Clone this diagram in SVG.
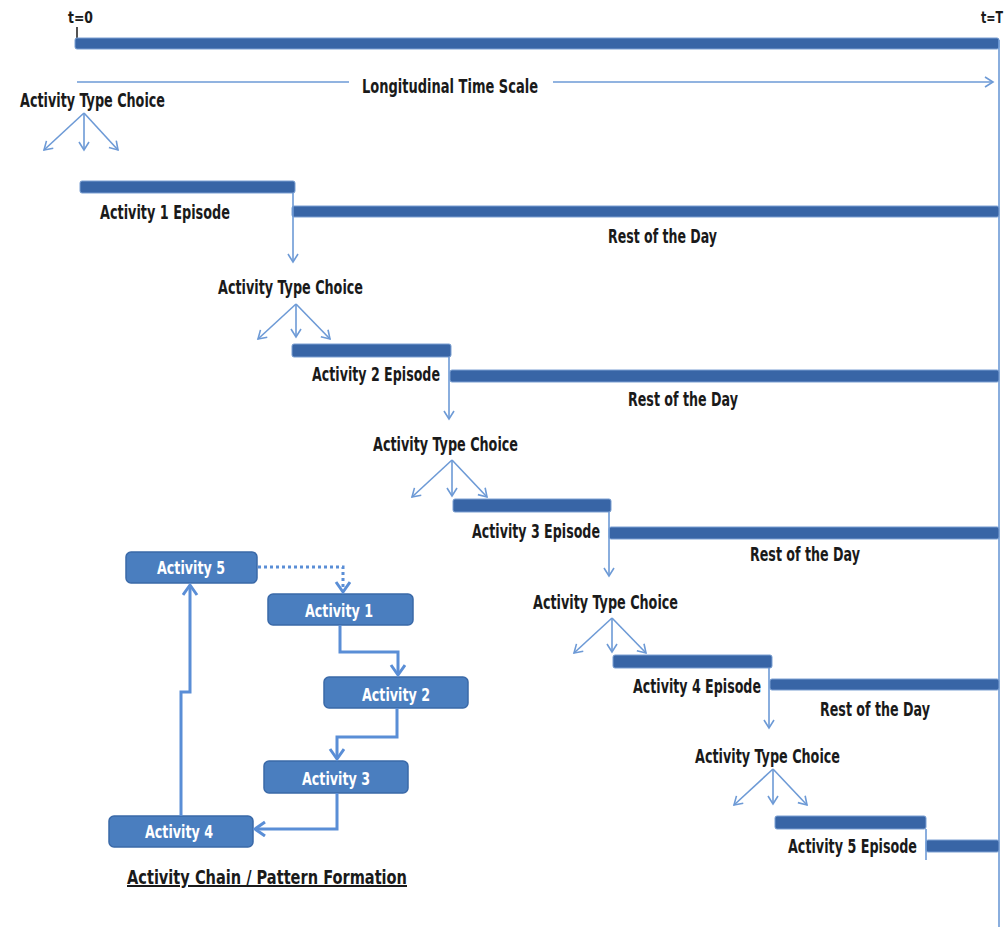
<svg xmlns="http://www.w3.org/2000/svg" width="1008" height="927" viewBox="0 0 1008 927">
<style>
.lbl{font-family:"Liberation Sans Narrow","DejaVu Sans Condensed","Liberation Sans",sans-serif;font-weight:bold;font-size:19.5px;fill:#1a1a1a}
.box-t{font-family:"Liberation Sans Narrow","DejaVu Sans Condensed","Liberation Sans",sans-serif;font-weight:bold;font-size:17px;fill:#ffffff}
.bar{fill:#3865a6;stroke:#7a9fd2;stroke-width:1}
.box{fill:#4a7ebf;stroke:#3a69a8;stroke-width:1.5}
.thin{fill:none;stroke:#6d9ad6;stroke-width:1.6}
.chain{fill:none;stroke:#5a8ed6;stroke-width:3}
</style>
<defs>
<marker id="ah" markerUnits="userSpaceOnUse" markerWidth="16" markerHeight="16" refX="9" refY="6" orient="auto">
<path d="M1,1 L9,6 L1,11" fill="none" stroke="#6d9ad6" stroke-width="1.6"/>
</marker>
<marker id="ahL" markerUnits="userSpaceOnUse" markerWidth="20" markerHeight="20" refX="12" refY="8" orient="auto">
<path d="M2,1 L12,8 L2,15" fill="none" stroke="#5a8ed6" stroke-width="3"/>
</marker>
</defs>
<rect width="1008" height="927" fill="#ffffff"/>

<g id="timeline">
<line x1="77" y1="27" x2="77" y2="40" stroke="#1a1a1a" stroke-width="1.5"/>
<text class="lbl" x="68" y="23" style="font-size:16px" textLength="25" lengthAdjust="spacingAndGlyphs">t=0</text>
<text class="lbl" x="981" y="23" style="font-size:16px" textLength="22" lengthAdjust="spacingAndGlyphs">t=T</text>
<rect class="bar" x="75" y="38" width="924" height="11" rx="2"/>
<line x1="999" y1="40" x2="999" y2="927" stroke="#6d9ad6" stroke-width="1.6"/>
<text class="lbl" x="362" y="93" textLength="176" lengthAdjust="spacingAndGlyphs">Longitudinal Time Scale</text>
</g>

<g id="episodes">
<rect class="bar" x="80" y="181" width="215" height="12" rx="2"/>
<rect class="bar" x="292" y="206" width="707" height="11" rx="2"/>
<rect class="bar" x="292" y="344" width="159" height="13" rx="2"/>
<rect class="bar" x="450" y="370" width="549" height="12" rx="2"/>
<rect class="bar" x="453" y="499" width="158" height="13" rx="2"/>
<rect class="bar" x="609" y="527" width="390" height="12" rx="2"/>
<rect class="bar" x="613" y="655" width="159" height="13" rx="2"/>
<rect class="bar" x="770" y="679" width="229" height="11" rx="2"/>
<rect class="bar" x="775" y="816" width="151" height="13" rx="2"/>
<rect class="bar" x="926" y="840" width="73" height="12" rx="2"/>
</g>

<g id="labels">
<text class="lbl" x="20" y="107" textLength="145" lengthAdjust="spacingAndGlyphs">Activity Type Choice</text>
<text class="lbl" x="100" y="219" textLength="130" lengthAdjust="spacingAndGlyphs">Activity 1 Episode</text>
<text class="lbl" x="608" y="243" textLength="109" lengthAdjust="spacingAndGlyphs">Rest of the Day</text>
<text class="lbl" x="218" y="294" textLength="145" lengthAdjust="spacingAndGlyphs">Activity Type Choice</text>
<text class="lbl" x="312" y="381" textLength="128" lengthAdjust="spacingAndGlyphs">Activity 2 Episode</text>
<text class="lbl" x="628" y="406" textLength="110" lengthAdjust="spacingAndGlyphs">Rest of the Day</text>
<text class="lbl" x="373" y="451" textLength="145" lengthAdjust="spacingAndGlyphs">Activity Type Choice</text>
<text class="lbl" x="472" y="538" textLength="128" lengthAdjust="spacingAndGlyphs">Activity 3 Episode</text>
<text class="lbl" x="750" y="561" textLength="110" lengthAdjust="spacingAndGlyphs">Rest of the Day</text>
<text class="lbl" x="533" y="609" textLength="145" lengthAdjust="spacingAndGlyphs">Activity Type Choice</text>
<text class="lbl" x="633" y="693" textLength="128" lengthAdjust="spacingAndGlyphs">Activity 4 Episode</text>
<text class="lbl" x="820" y="716" textLength="110" lengthAdjust="spacingAndGlyphs">Rest of the Day</text>
<text class="lbl" x="695" y="763" textLength="145" lengthAdjust="spacingAndGlyphs">Activity Type Choice</text>
<text class="lbl" x="788" y="853" textLength="129" lengthAdjust="spacingAndGlyphs">Activity 5 Episode</text>
<text class="lbl" x="127" y="884" style="font-size:20px;text-decoration:underline" textLength="280" lengthAdjust="spacingAndGlyphs">Activity Chain / Pattern Formation</text>
</g>

<g id="act5"><rect class="box" x="126" y="552" width="131" height="31" rx="5"/><text class="box-t" x="157" y="574" textLength="68" lengthAdjust="spacingAndGlyphs">Activity 5</text></g>
<g id="act1"><rect class="box" x="268" y="594" width="145" height="31" rx="5"/><text class="box-t" x="305" y="617" textLength="68" lengthAdjust="spacingAndGlyphs">Activity 1</text></g>
<g id="act2"><rect class="box" x="324" y="677" width="144" height="31" rx="5"/><text class="box-t" x="362" y="701" textLength="68" lengthAdjust="spacingAndGlyphs">Activity 2</text></g>
<g id="act3"><rect class="box" x="264" y="761" width="144" height="32" rx="5"/><text class="box-t" x="302" y="785" textLength="68" lengthAdjust="spacingAndGlyphs">Activity 3</text></g>
<g id="act4"><rect class="box" x="109" y="816" width="144" height="31" rx="5"/><text class="box-t" x="145" y="838" textLength="68" lengthAdjust="spacingAndGlyphs">Activity 4</text></g>

<g id="connectors">
<line class="thin" x1="77" y1="82" x2="349" y2="82"/>
<line class="thin" x1="553" y1="82" x2="993" y2="82" marker-end="url(#ah)"/>
<line class="thin" x1="84" y1="113" x2="44" y2="150" marker-end="url(#ah)"/>
<line class="thin" x1="84" y1="113" x2="84" y2="150" marker-end="url(#ah)"/>
<line class="thin" x1="84" y1="113" x2="118" y2="150" marker-end="url(#ah)"/>
<line class="thin" x1="296" y1="304" x2="258" y2="339" marker-end="url(#ah)"/>
<line class="thin" x1="296" y1="304" x2="296" y2="337" marker-end="url(#ah)"/>
<line class="thin" x1="296" y1="304" x2="330" y2="339" marker-end="url(#ah)"/>
<line class="thin" x1="452" y1="460" x2="412" y2="497" marker-end="url(#ah)"/>
<line class="thin" x1="452" y1="460" x2="452" y2="496" marker-end="url(#ah)"/>
<line class="thin" x1="452" y1="460" x2="487" y2="497" marker-end="url(#ah)"/>
<line class="thin" x1="612" y1="618" x2="574" y2="653" marker-end="url(#ah)"/>
<line class="thin" x1="612" y1="618" x2="612" y2="652" marker-end="url(#ah)"/>
<line class="thin" x1="612" y1="618" x2="646" y2="653" marker-end="url(#ah)"/>
<line class="thin" x1="773" y1="769" x2="734" y2="805" marker-end="url(#ah)"/>
<line class="thin" x1="773" y1="769" x2="773" y2="804" marker-end="url(#ah)"/>
<line class="thin" x1="773" y1="769" x2="807" y2="805" marker-end="url(#ah)"/>
<line class="thin" x1="293" y1="193" x2="293" y2="262" marker-end="url(#ah)"/>
<line class="thin" x1="449" y1="357" x2="449" y2="419" marker-end="url(#ah)"/>
<line class="thin" x1="609" y1="512" x2="609" y2="576" marker-end="url(#ah)"/>
<line class="thin" x1="769" y1="668" x2="769" y2="728" marker-end="url(#ah)"/>
<line class="thin" x1="926" y1="829" x2="926" y2="860"/>
<path class="chain" d="M258,567 H343 V592" stroke-dasharray="3,3" marker-end="url(#ahL)"/>
<path class="chain" d="M340,625 V652 H398 V675" marker-end="url(#ahL)"/>
<path class="chain" d="M397,708 V737 H337 V759" marker-end="url(#ahL)"/>
<path class="chain" d="M337,793 V829 H255" marker-end="url(#ahL)"/>
<path class="chain" d="M181,816 V692 H190 V585" marker-end="url(#ahL)"/>
</g>
</svg>
